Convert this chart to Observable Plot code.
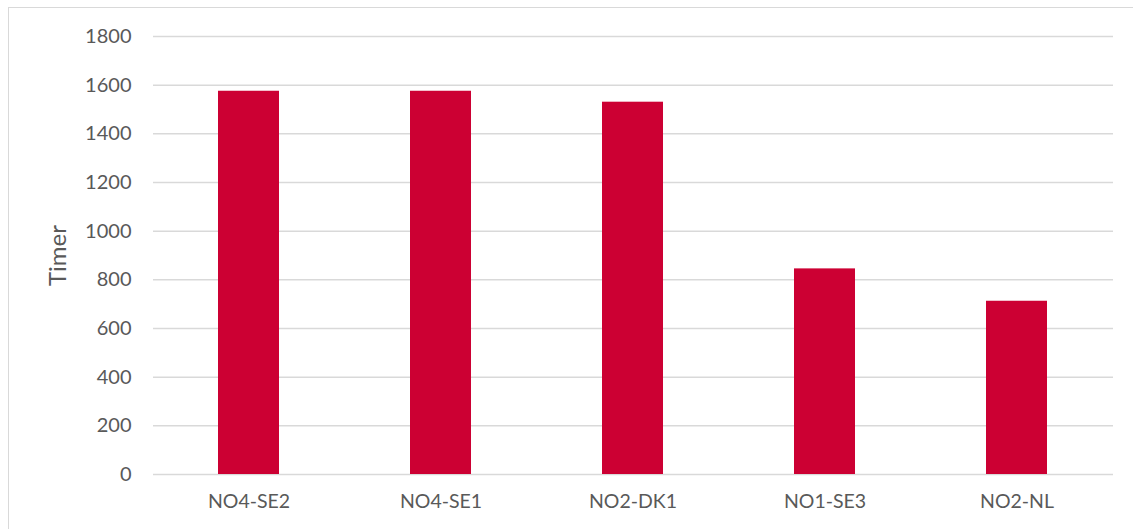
<!DOCTYPE html>
<html>
<head>
<meta charset="utf-8">
<script src="https://cdn.jsdelivr.net/npm/d3@7"></script>
<script src="https://cdn.jsdelivr.net/npm/@observablehq/plot@0.6"></script>
<style>
  html, body { margin: 0; padding: 0; background: #fff; }
  #wrap { position: relative; width: 1133px; height: 529px; overflow: hidden; }
  #border { position: absolute; left: 8px; top: 7px; width: 1200px; height: 600px;
            border-left: 1.5px solid #d9d9d9; border-top: 1.5px solid #d9d9d9; pointer-events: none; }
  #chart { position: absolute; left: 0; top: 0; }
</style>
</head>
<body>
<div id="wrap"><div id="chart"></div><div id="border"></div></div>
<script>
const categories = ["NO4-SE2", "NO4-SE1", "NO2-DK1", "NO1-SE3", "NO2-NL"];
const values = [1575, 1575, 1530, 845, 712];
const yTicks = [0, 200, 400, 600, 800, 1000, 1200, 1400, 1600, 1800];

const data = categories.map((c, i) => ({category: c, value: values[i]}));

const chart = Plot.plot({
  width: 1133,
  height: 529,
  marginLeft: 153,
  marginRight: 20,
  marginTop: 36,
  marginBottom: 55,
  style: {fontFamily: "Lato, 'Open Sans', sans-serif", fontSize: "20px", color: "#595959", background: "transparent"},
  x: {domain: categories, paddingInner: 0.68, paddingOuter: 0.34, label: null},
  y: {domain: [0, 1800], label: null},
  marks: [
    Plot.gridY(yTicks, {stroke: "#d9d9d9", strokeOpacity: 1, strokeWidth: 1.5}),
    Plot.barY(data, {x: "category", y: "value", fill: "#cc0033"}),
    Plot.axisY({ticks: yTicks, tickSize: 0, tickPadding: 22, tickFormat: d => String(d), label: null, fontSize: 20}),
    Plot.axisX({tickSize: 0, tickPadding: 20, label: null, fontSize: 19.5}),
    Plot.text(["Timer"], {frameAnchor: "left", dx: -95, rotate: -90, textAnchor: "middle", fontSize: 24, fill: "#595959"})
  ]
});
document.getElementById("chart").appendChild(chart);
</script>
</body>
</html>
